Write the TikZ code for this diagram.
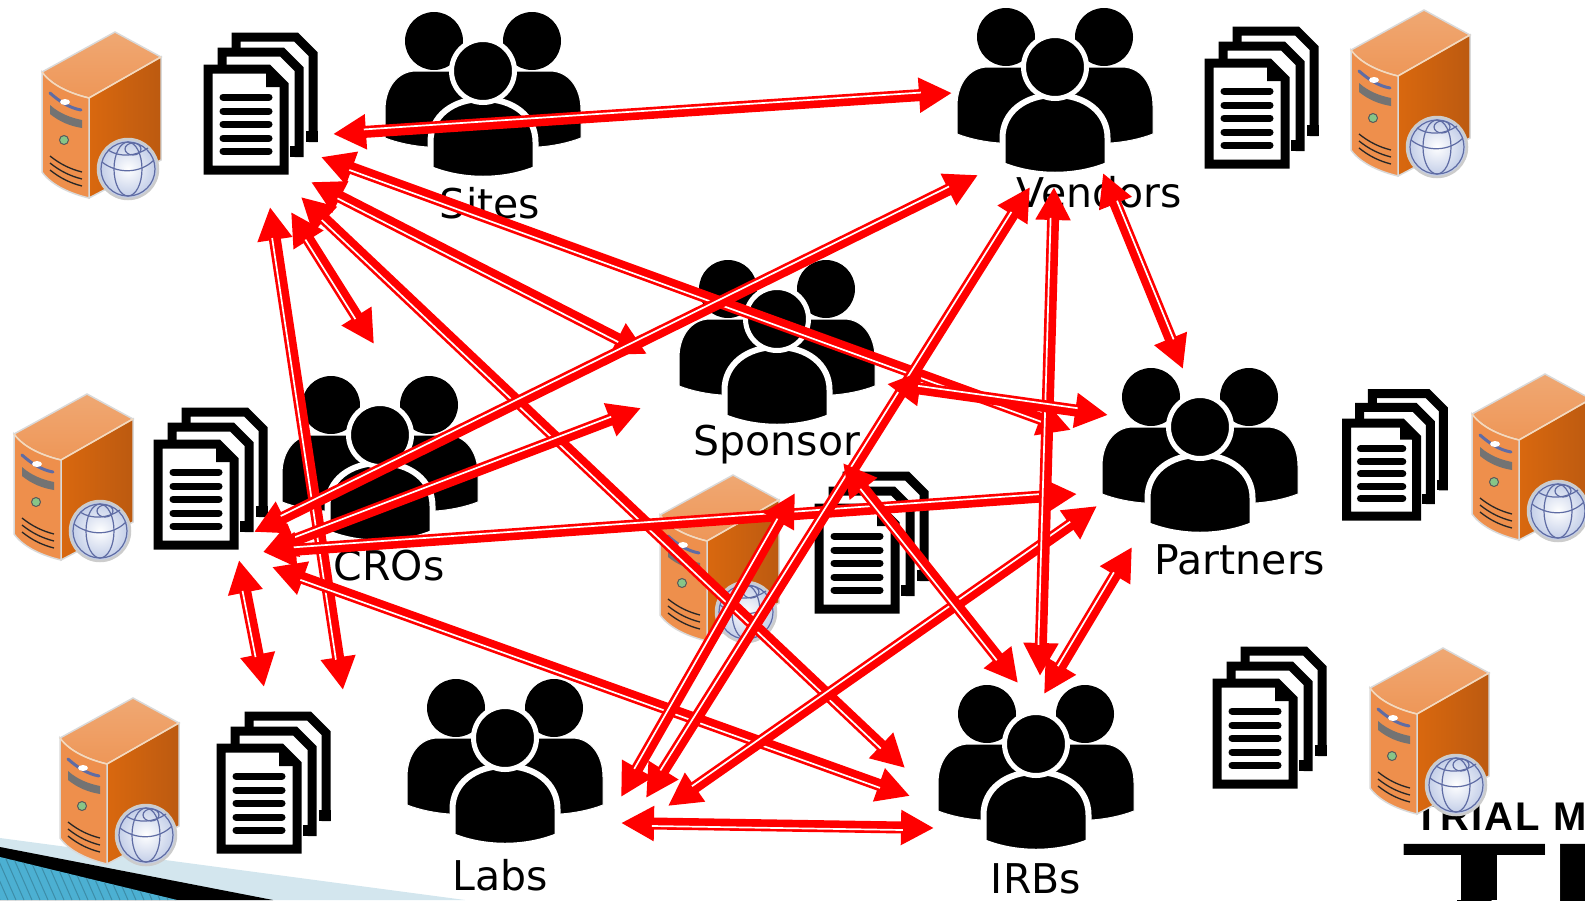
\documentclass[tikz,border=0pt]{standalone}
\usepackage{fontspec}
\setmainfont{DejaVu Sans}
\newfontfamily\logofont{Liberation Sans}[BoldFont={Liberation Sans Bold}]
\usetikzlibrary{arrows.meta,calc}
\definecolor{serverlight}{HTML}{EE8F4C}
\definecolor{servermid}{HTML}{D9680F}
\definecolor{serverdark}{HTML}{BC5A10}
\definecolor{servertop}{HTML}{EFA873}
\definecolor{globeline}{HTML}{5F6CA4}
\definecolor{globeedge}{HTML}{BECAE6}
\definecolor{footerlight}{HTML}{D3E6EE}
\definecolor{footerblue}{HTML}{4CB0D2}
\tikzset{
link/.style = { <->, > = {Triangle[length=33pt,width=33pt]}, red, line width = 12pt },
linkgap/.style = { white, line width = 1.7pt, shorten > = 31pt, shorten < = 31pt },
label/.style = { font = \fontsize{41}{49}\selectfont, inner sep = 0pt },
docline/.style = { draw = black, line width = 9pt, miter limit = 10 },
textbar/.style = { black, line width = 7pt, line cap = round },
people/.pic = {
	\fill (-49,29) circle [radius=29];
	\fill (49,29) circle [radius=29];
	\draw [fill=black, draw=white, line width=1pt] (-98,126) -- (-98,98) .. controls (-98,75) and (-85,59) .. (-67,59)
		-- (67,59) .. controls (85,59) and (98,75) .. (98,98) -- (98,126)
		.. controls (85,131) and (70,134) .. (56,135) -- (-56,135) .. controls (-70,134) and (-85,131) .. (-98,126) -- cycle;
	\draw [fill=black, draw=white, line width=6pt] (-52.5,157) -- (-52.5,130) .. controls (-52.5,104) and (-30,87) .. (0,87)
		.. controls (30,87) and (52.5,104) .. (52.5,130) -- (52.5,157) .. controls (20,170) and (-20,170) .. (-52.5,157) -- cycle;
	\draw [fill=black, draw=white, line width=5pt] (0,59) circle [radius=31.5];
},
docstack/.pic = {
	\draw [docline] (32,17) -- (32,4) -- (92,4) -- (109,21) -- (109,109);
	\draw [docline] (18,32) -- (18,19) -- (78,19) -- (95,36) -- (95,124);
	\fill (102,98) rectangle (114,109);
	\fill (86,113) rectangle (98,124);
	\draw [docline, fill=white] (4,36) -- (64,36) -- (80,52) -- (80,137) -- (4,137) -- cycle;
	\fill (62,36) -- (84,54) -- (62,54) -- cycle;
	\foreach \ypos in {64,78,91,105,118}
		\draw [textbar] (19,\ypos) -- (65,\ypos);
},
server/.pic = {
	\shade [top color=servertop, bottom color=serverlight!70!servertop, draw=black!15, line width=1.5pt] (0,40) -- (73,0) -- (119,25) -- (47,66) .. controls (30,62) and (10,54) .. (0,40) -- cycle;
	\draw [left color=servermid, right color=serverdark, draw=black!15, line width=1.5pt] (47,66) -- (119,25) -- (119,128) -- (47,166) -- cycle;
	\fill [serverlight, draw=black!15, line width=1.5pt] (0,40) .. controls (10,54) and (30,62) .. (47,66) -- (47,166) .. controls (30,162) and (10,154) .. (0,140) -- cycle;
	\draw [white!70!orange, line width=1pt] (0,40) .. controls (10,54) and (30,62) .. (47,66) -- (119,25);
	\draw [globeline, line width=3pt, line cap=round] (8,61) .. controls (18,70) and (28,76) .. (39,78);
	\fill [white] (23,70) ellipse [x radius=5, y radius=3];
	\fill [black!55] (8,73) .. controls (18,82) and (30,86) .. (40,88) -- (40,96) .. controls (28,94) and (18,90) .. (8,82) -- cycle;
	\draw [black!65, fill=green!35!gray!70!white, line width=1pt] (22,108) circle [radius=4.5];
	\foreach \ypos in {124,131,138}
		\draw [black!85, line width=1.3pt] (8,\ypos) .. controls (18,\ypos+8) and (28,\ypos+13) .. (40,\ypos+16);
	\shade [inner color=white, outer color=globeedge, draw=black!20, line width=2.5pt] (86,137) circle [radius=30];
	\draw [globeline, line width=1.2pt] (86,137) ellipse [x radius=27, y radius=27];
	\draw [globeline, line width=1.2pt] (86,137) ellipse [x radius=14, y radius=27];
	\draw [globeline, line width=1.2pt] (91,117) ellipse [x radius=8, y radius=6];
	\draw [globeline, line width=1.2pt] (60,130) .. controls (75,142) and (98,142) .. (112,128);
	\draw [globeline, line width=1.2pt] (66,118) .. controls (78,126) and (95,124) .. (106,116);
}
}
\newcommand{\link}[3][2.5]{
	\draw [link] (#2) -- (#3);
	\draw [linkgap] ($(#2)!#1pt!90:(#3)$) -- ($(#3)!#1pt!-90:(#2)$);
}

\begin{document}
\begin{tikzpicture}[x=1pt,y=-1pt]
	\useasboundingbox (0,0) rectangle (1585,900);

	% slide footer
	\fill [footerlight] (0,838) -- (465,900) -- (0,900) -- cycle;
	\fill [black] (0,847) -- (273,900) -- (0,900) -- cycle;
	\begin{scope}
		\clip (0,857) -- (177,900) -- (0,900) -- cycle;
		\fill [footerblue] (0,850) rectangle (180,900);
		\foreach \xpos in {-30,-22,...,170}
			\draw [footerblue!80!black, line width=1pt] (\xpos,850) -- (\xpos+22,900);
	\end{scope}

	% logo
	\node [anchor=base west, inner sep=0pt, font=\logofont\bfseries\fontsize{40}{48}\selectfont\addfontfeature{LetterSpace=5}] (logotop) at (1414,830) {TRIAL M};
	\node [anchor=base west, inner sep=0pt, font=\logofont\bfseries\fontsize{240}{240}\selectfont] (logobig) at (1401,1009) {T\kern-4pt N};
	\fill [white] (1395,855) rectangle (1552,900);
	\fill [black] (1461,850) rectangle (1497,900);

	\pic at (42,32) {server};
	\pic at (1351,10) {server};
	\pic at (14,394) {server};
	\pic at (660,475) {server};
	\pic at (1472,374) {server};
	\pic at (60,698) {server};
	\pic at (1370,648) {server};

	\pic at (204,33) {docstack};
	\pic at (1205,27) {docstack};
	\pic at (154,408) {docstack};
	\pic at (815,472) {docstack};
	\pic [scale=.92] at (1343,390) {docstack};
	\pic at (217,712) {docstack};
	\pic at (1213,647) {docstack};

	\pic at (483,12) {people};
	\pic at (1055,8) {people};
	\pic at (777,260) {people};
	\pic at (380,376) {people};
	\pic at (1200,368) {people};
	\pic at (505,679) {people};
	\pic at (1036,685) {people};

	\node [label] (sites) at (490,203) {Sites};
	\node [label] (vendors) at (1099,192) {Vendors};
	\node [label] (sponsor) at (777,445) {Sponsor};
	\node [label] (cros) at (389,566) {CROs};
	\node [label] (partners) at (1240,560) {Partners};
	\node [label] (labs) at (500,875) {Labs};
	\node [label] (irbs) at (1036,879) {IRBs};

	\coordinate (sitesVendors) at (333,134);	\coordinate (vendorsSites) at (952,93);
	\coordinate (sitesPartners) at (321,157);	\coordinate (partnersSites) at (1071,430);
	\coordinate (sitesSponsor) at (311,182);	\coordinate (sponsorSites) at (647,354);
	\coordinate (sitesIrbs) at (301,197);		\coordinate (irbsSites) at (905,768);
	\coordinate (sitesCros) at (291,212);		\coordinate (crosSites) at (374,344);
	\coordinate (sitesLabs) at (270,207);		\coordinate (labsSites) at (343,690);
	\coordinate (crosVendors) at (254,532);		\coordinate (vendorsCros) at (978,175);
	\coordinate (crosSponsor) at (263,552);		\coordinate (sponsorCros) at (641,408);
	\coordinate (crosPartners) at (263,552);	\coordinate (partnersCros) at (1077,494);
	\coordinate (crosIrbs) at (272,567);		\coordinate (irbsCros) at (910,796);
	\coordinate (crosLabs) at (239,560);		\coordinate (labsCros) at (264,687);
	\coordinate (labsSponsor) at (621,797);		\coordinate (sponsorLabs) at (795,493);
	\coordinate (labsVendors) at (646,798);		\coordinate (vendorsLabs) at (1030,187);
	\coordinate (labsPartners) at (668,806);	\coordinate (partnersLabs) at (1097,506);
	\coordinate (labsIrbs) at (621,823);		\coordinate (irbsLabs) at (934,828);
	\coordinate (vendorsIrbs) at (1054,187);	\coordinate (irbsVendors) at (1040,676);
	\coordinate (sponsorPartners) at (887,384);	\coordinate (partnersSponsor) at (1108,415);
	\coordinate (sponsorIrbs) at (843,463);		\coordinate (irbsSponsor) at (1018,683);
	\coordinate (vendorsPartners) at (1103,173);	\coordinate (partnersVendors) at (1183,369);
	\coordinate (partnersIrbs) at (1132,547);	\coordinate (irbsPartners) at (1044,694);

	\link{sitesVendors}{vendorsSites}
	\link[-2.5]{sitesPartners}{partnersSites}
	\link[-2.5]{sitesSponsor}{sponsorSites}
	\link[-2.5]{sitesIrbs}{irbsSites}
	\link[-2.5]{sitesCros}{crosSites}
	\link[-2.5]{sitesLabs}{labsSites}
	\link{crosVendors}{vendorsCros}
	\link{crosSponsor}{sponsorCros}
	\link{crosPartners}{partnersCros}
	\link[-2.5]{crosIrbs}{irbsCros}
	\link[-2.5]{crosLabs}{labsCros}
	\link{labsSponsor}{sponsorLabs}
	\link{labsVendors}{vendorsLabs}
	\link{labsPartners}{partnersLabs}
	\link[-2.5]{labsIrbs}{irbsLabs}
	\link[-2.5]{vendorsIrbs}{irbsVendors}
	\link{sponsorPartners}{partnersSponsor}
	\link[-2.5]{sponsorIrbs}{irbsSponsor}
	\link{vendorsPartners}{partnersVendors}
	\link[-2.5]{partnersIrbs}{irbsPartners}
\end{tikzpicture}
\end{document}
